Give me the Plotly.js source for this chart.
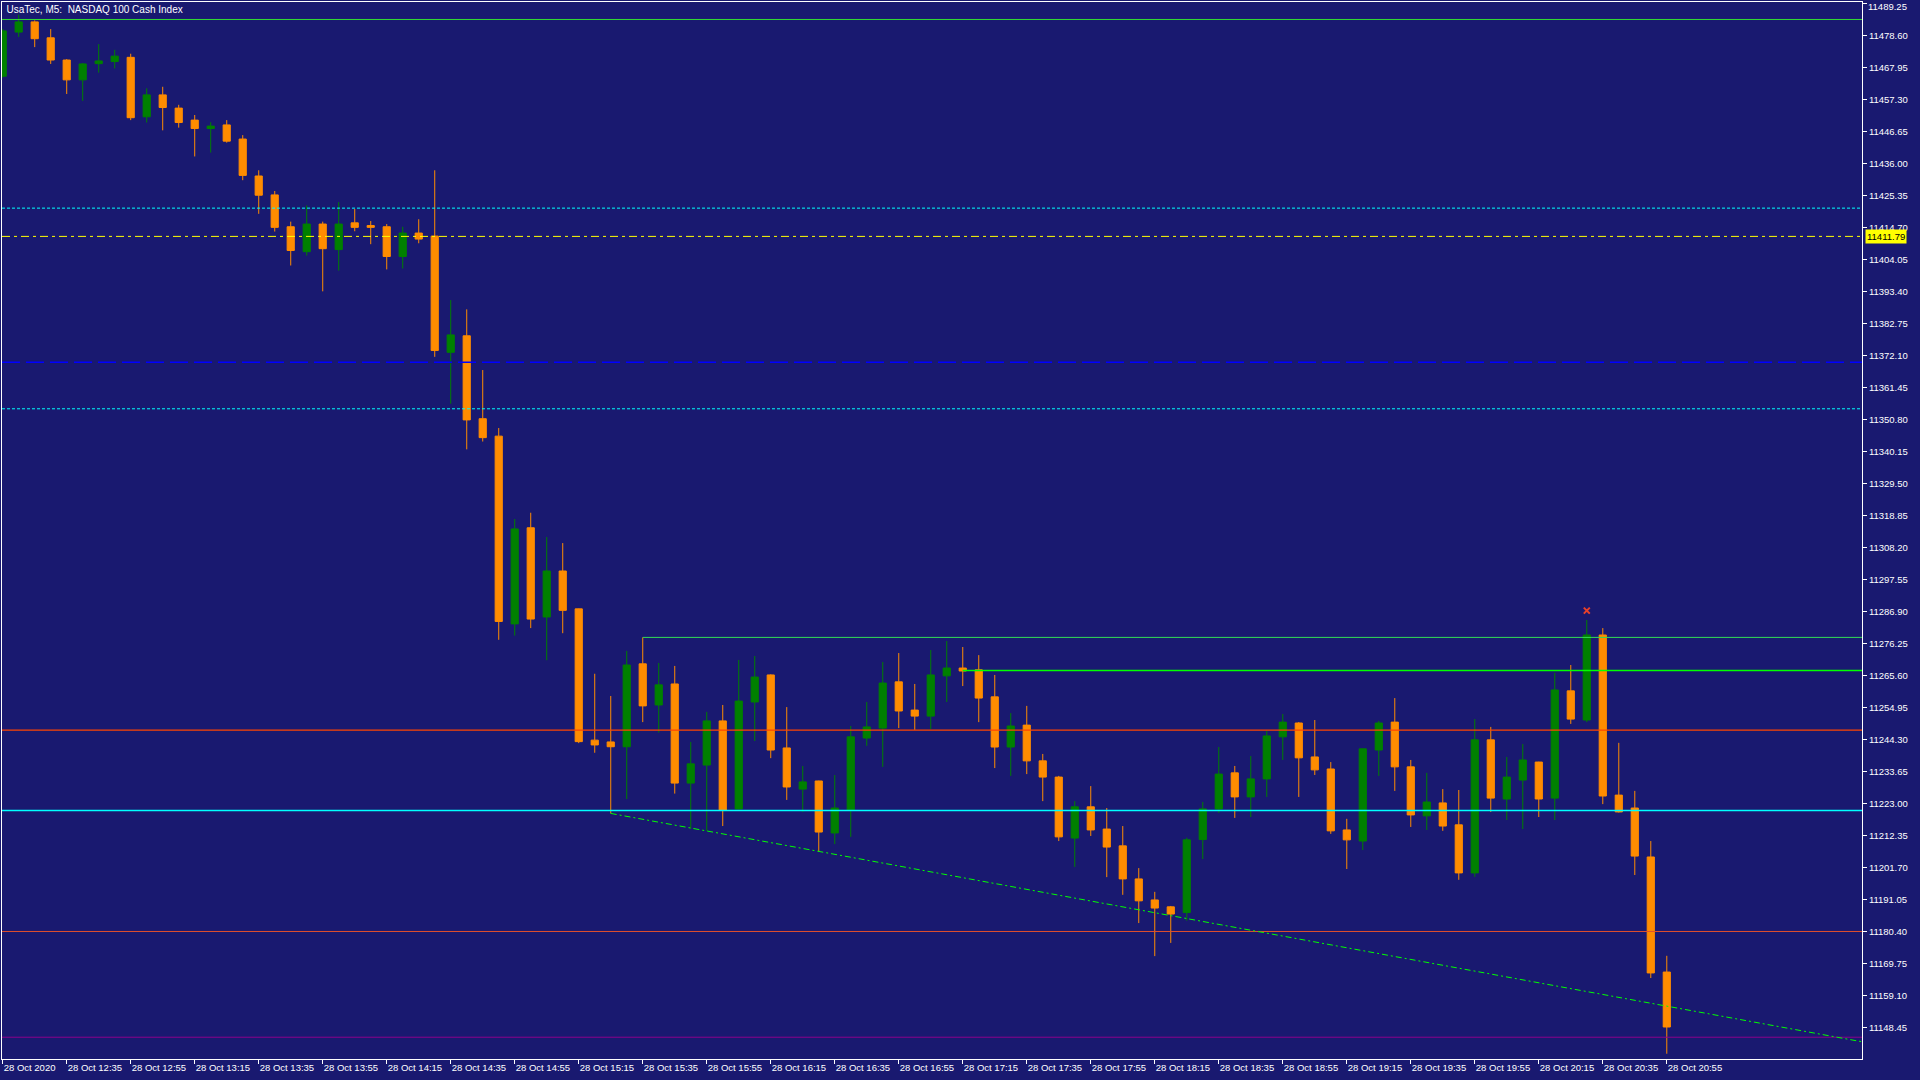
<!DOCTYPE html>
<html>
<head>
<meta charset="utf-8">
<script src="https://cdn.plot.ly/plotly-3.0.1.min.js"></script>
<style>
html,body{margin:0;padding:0;background:#191970;overflow:hidden}
#chart{width:1920px;height:1080px}
</style>
</head>
<body>
<div id="chart"></div>
<script>
// ---- data (M5 bars, 28 Oct 2020, 12:15 .. 20:55) ----
const opens = [11465.1,11479.8,11483.2,11477.9,11470.5,11463.9,11469.3,11470.0,11471.4,11451.6,
11458.9,11454.5,11450.5,11447.7,11448.9,11444.2,11431.9,11425.6,11415.0,11406.7,
11415.9,11407.4,11416.3,11415.4,11415.0,11405.1,11412.9,11411.9,11373.2,11378.7,
11351.1,11345.3,11282.8,11314.8,11285.1,11300.4,11287.8,11244.1,11243.5,11241.9,
11269.5,11255.8,11262.8,11229.8,11235.8,11250.5,11221.2,11256.8,11265.8,11241.5,
11227.8,11230.5,11213.2,11220.8,11244.8,11248.1,11263.5,11254.1,11252.1,11265.5,
11268.1,11267.5,11258.5,11241.8,11249.1,11237.2,11231.8,11211.5,11221.9,11214.5,
11208.9,11197.9,11190.9,11188.6,11186.7,11211.0,11221.2,11233.2,11225.2,11231.2,
11245.2,11249.8,11238.5,11234.5,11214.2,11210.5,11240.8,11250.1,11235.2,11218.9,
11223.2,11215.9,11199.9,11244.2,11224.5,11230.8,11236.8,11224.8,11260.5,11250.8,
11279.1,11225.8,11221.5,11205.2,11166.9];
const highs = [11480.8,11485.6,11483.7,11480.8,11470.8,11469.5,11475.8,11473.9,11472.6,11461.1,
11461.6,11455.6,11452.2,11449.8,11450.5,11445.5,11433.8,11426.9,11416.7,11422.1,
11416.7,11423.2,11420.9,11416.9,11415.9,11415.0,11417.5,11433.8,11390.6,11387.5,
11367.3,11348.0,11317.7,11319.8,11311.7,11309.7,11287.9,11266.2,11258.8,11273.8,
11278.3,11269.8,11268.8,11243.5,11253.5,11255.8,11270.8,11272.1,11266.0,11255.1,
11235.5,11230.6,11232.5,11248.8,11256.8,11270.1,11273.1,11262.8,11274.1,11277.1,
11275.1,11272.4,11265.8,11253.1,11255.5,11239.5,11232.2,11223.8,11228.8,11221.5,
11215.5,11201.5,11193.6,11188.9,11211.6,11223.5,11241.8,11235.5,11238.8,11247.2,
11252.8,11250.1,11250.8,11236.8,11217.9,11241.2,11250.5,11258.1,11237.5,11233.2,
11227.8,11227.5,11251.1,11248.5,11238.5,11242.8,11236.9,11266.5,11269.1,11284.1,
11281.4,11243.2,11227.2,11210.5,11172.3];
const lows = [11464.7,11478.2,11474.8,11469.2,11459.2,11456.9,11466.3,11467.7,11450.5,11449.7,
11447.1,11448.0,11438.4,11439.7,11443.0,11430.5,11419.3,11413.4,11402.1,11405.4,
11393.5,11400.4,11413.5,11409.2,11400.8,11401.1,11409.5,11371.7,11356.1,11340.9,
11343.5,11277.5,11278.9,11281.4,11270.7,11279.7,11243.1,11239.9,11219.7,11224.5,
11250.1,11246.6,11226.3,11214.6,11213.9,11215.5,11221.0,11243.8,11238.1,11224.2,
11220.2,11207.0,11209.5,11211.9,11242.2,11235.2,11248.1,11247.5,11247.8,11256.8,
11262.1,11250.1,11234.8,11232.2,11232.8,11223.8,11210.5,11201.9,11212.2,11198.5,
11192.6,11183.2,11172.2,11176.6,11184.0,11204.5,11219.9,11218.2,11218.5,11225.2,
11237.5,11225.2,11232.5,11212.9,11201.2,11207.5,11232.2,11227.2,11215.2,11214.2,
11213.9,11197.6,11198.6,11220.2,11217.5,11214.5,11218.5,11217.5,11249.5,11250.1,
11222.8,11220.0,11199.2,11164.9,11139.7];
const closes = [11480.2,11483.2,11477.6,11470.5,11463.9,11469.2,11470.2,11471.8,11451.3,11458.9,
11454.7,11449.7,11447.7,11448.5,11443.5,11432.1,11425.5,11414.8,11407.1,11415.9,
11407.7,11415.9,11414.8,11414.8,11405.1,11412.9,11410.9,11373.8,11379.0,11350.7,
11344.8,11283.6,11314.4,11284.4,11300.4,11287.3,11243.6,11242.5,11241.9,11269.1,
11255.5,11262.5,11229.8,11236.2,11250.5,11220.7,11257.1,11265.1,11240.8,11228.5,
11230.2,11213.5,11221.5,11245.2,11248.5,11263.1,11253.8,11252.1,11265.8,11268.1,
11267.1,11258.1,11241.8,11248.8,11237.2,11231.8,11211.9,11221.9,11214.2,11208.5,
11197.9,11190.6,11188.2,11186.2,11210.9,11221.2,11232.8,11225.2,11231.2,11245.5,
11250.1,11238.2,11234.2,11213.9,11210.9,11241.2,11249.8,11235.2,11219.2,11223.5,
11215.5,11199.9,11244.2,11224.8,11231.8,11237.5,11224.5,11260.8,11251.1,11279.1,
11225.5,11220.2,11205.5,11166.6,11148.6];

const tickBars = [0,4,8,12,16,20,24,28,32,36,40,44,48,52,56,60,64,68,72,76,80,84,88,92,96,100,104];
const tickLabels = ["28 Oct 2020","28 Oct 12:35","28 Oct 12:55","28 Oct 13:15","28 Oct 13:35",
"28 Oct 13:55","28 Oct 14:15","28 Oct 14:35","28 Oct 14:55","28 Oct 15:15","28 Oct 15:35",
"28 Oct 15:55","28 Oct 16:15","28 Oct 16:35","28 Oct 16:55","28 Oct 17:15","28 Oct 17:35",
"28 Oct 17:55","28 Oct 18:15","28 Oct 18:35","28 Oct 18:55","28 Oct 19:15","28 Oct 19:35",
"28 Oct 19:55","28 Oct 20:15","28 Oct 20:35","28 Oct 20:55"];

const yTickStart = 11148.45;
const yTickStep = 10.65;
const yTickCount = 33;

const levelValues = [11484.0, 11421.2, 11411.79, 11369.9, 11354.4, 11247.4, 11220.7, 11180.4, 11145.2];
const rayStartBars = [40, 60];
const rayValues = [11278.3, 11267.3];
const trendBars = [38, 106];
const trendValues = [11219.7, 11153.6];
const markerBars = [99];
const markerValues = [11287.2];
const currentPrice = 11411.79;

// ---- view ----
const xRange = [-0.044, 116.2];
const yRange = [11137.95, 11489.82];

const levelStyles = [
  {color:'#33DD33', width:1,   dash:'solid'},
  {color:'#00FFFF', width:1,   dash:'3px,2px'},
  {color:'#FFFF00', width:1,   dash:'8px,4px,3px,4px'},
  {color:'#0000FF', width:1.4, dash:'18px,6px'},
  {color:'#00FFFF', width:1,   dash:'3px,2px'},
  {color:'#FF4500', width:1.2, dash:'solid'},
  {color:'#00FFFF', width:1.5, dash:'solid'},
  {color:'#E2502C', width:1,   dash:'solid'},
  {color:'#8B008B', width:1,   dash:'solid'}
];
const rayStyles = [
  {color:'#33DD55', width:1,   dash:'solid'},
  {color:'#00FF00', width:1.4, dash:'solid'}
];

const bars = opens.map((_, i) => i);

// y ticks: the top one's label is drawn as an annotation just inside the page edge
const yTickVals = [];
for (let k = 0; k < yTickCount; k++) yTickVals.push(+(yTickStart + k * yTickStep).toFixed(2));
const yTickText = yTickVals.map((v, k) => k === yTickCount - 1 ? '' : v.toFixed(2));
const topTick = yTickVals[yTickCount - 1];

const candle = {
  type: 'candlestick',
  x: bars, open: opens, high: highs, low: lows, close: closes,
  increasing: {line: {color: '#008000', width: 1}, fillcolor: '#008000'},
  decreasing: {line: {color: '#FF8C00', width: 1}, fillcolor: '#FF8C00'},
  whiskerwidth: 0,
  hoverinfo: 'none',
  showlegend: false
};

const marker = {
  type: 'scatter', mode: 'markers',
  x: markerBars, y: markerValues,
  marker: {symbol: 'x-thin', size: 6, line: {color: '#E8402A', width: 2}, color: '#E8402A'},
  hoverinfo: 'none', showlegend: false
};

const shapes = [];
levelValues.forEach((v, i) => {
  shapes.push({type:'line', xref:'paper', yref:'y', x0:0, x1:1, y0:v, y1:v, layer:'above',
    line: levelStyles[i]});
});
rayStartBars.forEach((b, i) => {
  shapes.push({type:'line', xref:'x', yref:'y', x0:b, x1:xRange[1], y0:rayValues[i], y1:rayValues[i],
    layer:'above', line: rayStyles[i]});
});
const slope = (trendValues[1] - trendValues[0]) / (trendBars[1] - trendBars[0]);
shapes.push({type:'line', xref:'x', yref:'y', x0:trendBars[0], y0:trendValues[0],
  x1:xRange[1], y1:trendValues[0] + slope * (xRange[1] - trendBars[0]),
  layer:'above', line:{color:'#00FF00', width:1, dash:'6px,3px,2px,3px'}});

const fontFam = 'Liberation Sans, Arial, sans-serif';

const layout = {
  width: 1920, height: 1080,
  paper_bgcolor: '#191970', plot_bgcolor: '#191970',
  margin: {l: 2, r: 58, t: 2, b: 21, pad: 0},
  showlegend: false,
  boxgap: 0.36,
  title: {
    text: 'UsaTec, M5:  NASDAQ 100 Cash Index',
    font: {family: fontFam, size: 10, color: '#FFFFFF'},
    x: 0.0034, xref: 'container', xanchor: 'left',
    y: 0.9915, yref: 'container', yanchor: 'middle'
  },
  xaxis: {
    type: 'linear', range: xRange, fixedrange: true,
    rangeslider: {visible: false},
    showgrid: false, zeroline: false,
    showline: true, linecolor: '#FFFFFF', linewidth: 1, mirror: true,
    tickmode: 'array', tickvals: tickBars, ticktext: tickLabels,
    ticks: 'outside', ticklen: 4, tickcolor: '#FFFFFF', tickwidth: 1,
    ticklabelposition: 'outside right',
    ticklabeloverflow: 'allow',
    tickfont: {family: fontFam, size: 9.5, color: '#FFFFFF'}
  },
  yaxis: {
    range: yRange, fixedrange: true, side: 'right',
    showgrid: false, zeroline: false,
    showline: true, linecolor: '#FFFFFF', linewidth: 1, mirror: true,
    tickmode: 'array', tickvals: yTickVals, ticktext: yTickText,
    ticks: 'outside', ticklen: 4, tickcolor: '#FFFFFF', tickwidth: 1,
    ticklabeloverflow: 'allow',
    tickfont: {family: fontFam, size: 9.5, color: '#FFFFFF'}
  },
  shapes: shapes,
  annotations: [{
    xref: 'paper', yref: 'paper', x: 1, y: 1,
    xanchor: 'left', yanchor: 'top', xshift: 5, yshift: 2,
    text: topTick.toFixed(2), showarrow: false, borderpad: 0,
    font: {family: fontFam, size: 9.5, color: '#FFFFFF'}
  }, {
    xref: 'paper', yref: 'y', x: 1, y: currentPrice,
    xanchor: 'left', yanchor: 'middle', xshift: 3,
    text: currentPrice.toFixed(2), showarrow: false,
    bgcolor: '#FFFF00', borderpad: 1,
    font: {family: fontFam, size: 9.5, color: '#000000'}
  }]
};

Plotly.newPlot('chart', [candle, marker], layout, {staticPlot: true, displayModeBar: false});
</script>
</body>
</html>
